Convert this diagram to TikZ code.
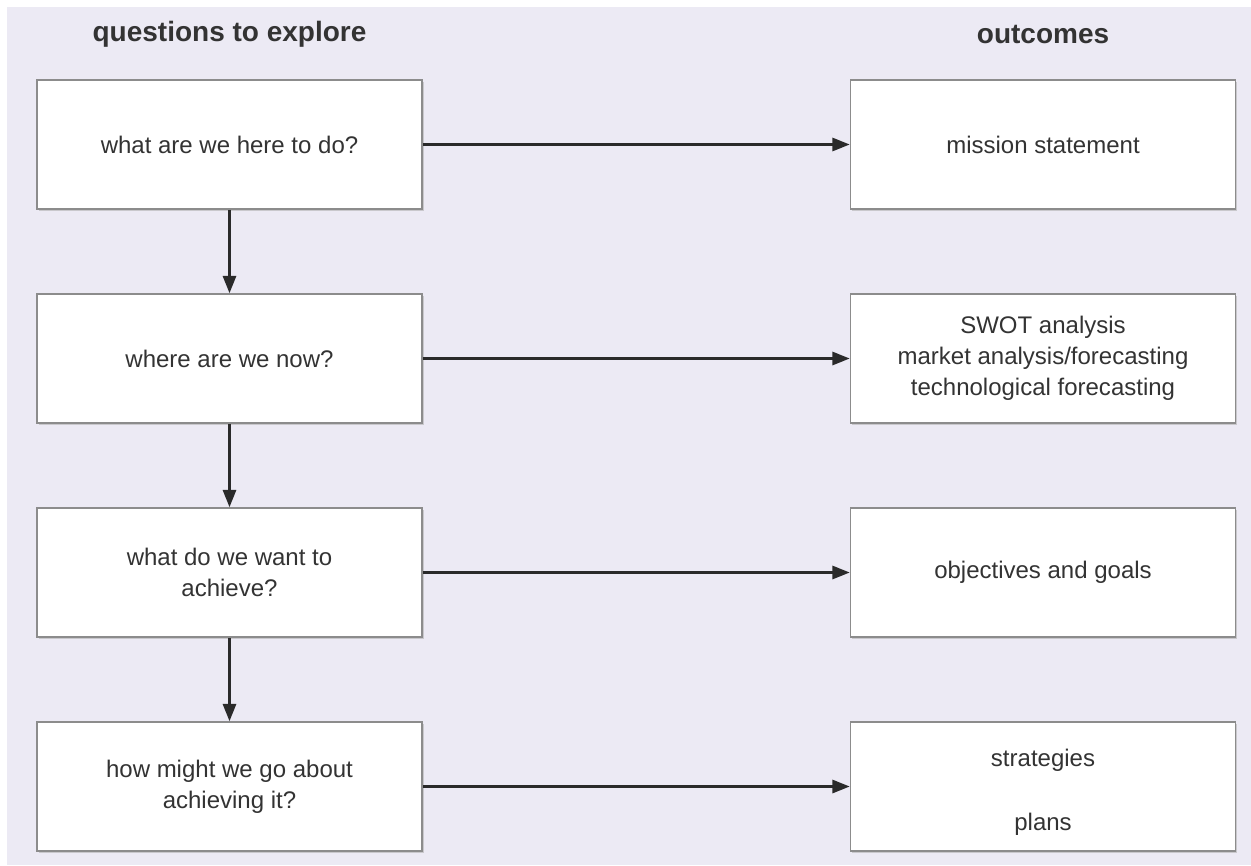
\documentclass[tikz,border=0pt]{standalone}
\usepackage{fontspec}
\setmainfont{Liberation Sans}
\usetikzlibrary{arrows.meta,shadows}
\definecolor{bgpanel}{HTML}{ECEAF4}
\definecolor{boxline}{HTML}{8C8C8C}
\definecolor{txt}{HTML}{333333}
\definecolor{arr}{HTML}{2A2A2A}
\tikzset{
  qbox/.style={draw=boxline, line width=1.3pt, fill=white,
    minimum width=288.75pt, minimum height=96.75pt, inner sep=0pt,
    align=center, font=\fontsize{18}{23.25}\selectfont, text=txt,
    drop shadow={shadow xshift=1.2pt, shadow yshift=-1.2pt, fill=black!30, opacity=0.6}},
  title/.style={font=\fontsize{21}{25}\selectfont\bfseries, text=txt},
  flow/.style={draw=arr, line width=1.6pt, -{Triangle[length=13pt,width=10pt]}}
}
\begin{document}
\begin{tikzpicture}[x=0.75pt,y=-0.75pt]
\useasboundingbox (0,0) rectangle (1251,865);
\fill[white] (0,0) rectangle (1251,865);
\fill[bgpanel] (7,7) rectangle (1251,865);
\node[title] (t1) at (229.5,34) {questions to explore};
\node[title] (t2) at (1043,34) {outcomes};
\node[qbox] (q1) at (229.5,144.5) {what are we here to do?};
\node[qbox] (q2) at (229.5,358.5) {where are we now?};
\node[qbox] (q3) at (229.5,572.5) {what do we want to\\achieve?};
\node[qbox] (q4) at (229.5,786.5) {how might we go about\\achieving it?};
\node[qbox] (o1) at (1043,144.5) {mission statement};
\node[qbox] (o2) at (1043,358.5) {SWOT analysis\\market analysis/forecasting\\technological forecasting};
\node[qbox] (o3) at (1043,572.5) {objectives and goals};
\node[qbox] (o4) at (1043,786.5) {\rule{0pt}{22pt}strategies\\[25pt]plans};
\draw[flow] (q1) -- (o1);
\draw[flow] (q2) -- (o2);
\draw[flow] (q3) -- (o3);
\draw[flow] (q4) -- (o4);
\draw[flow] (q1) -- (q2);
\draw[flow] (q2) -- (q3);
\draw[flow] (q3) -- (q4);
\end{tikzpicture}
\end{document}
